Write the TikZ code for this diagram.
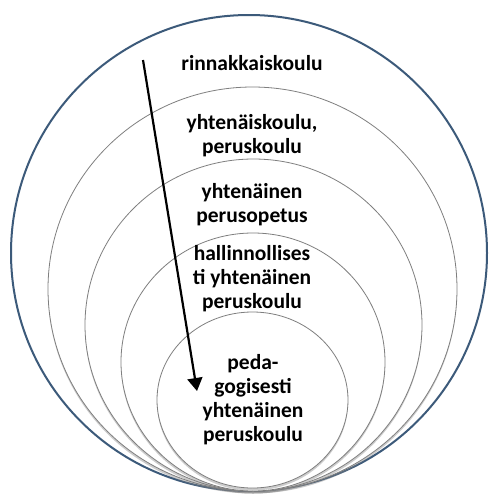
\documentclass[tikz,border=0pt]{standalone}
\usepackage{fontspec}
\setmainfont{Carlito}
\usetikzlibrary{shapes.geometric,shadows,arrows.meta}
\definecolor{outerblue}{HTML}{3C5A7A}
\definecolor{ringgray}{HTML}{7F7F7F}
\begin{document}
\begin{tikzpicture}[x=1pt,y=-1pt,
  ring/.style={ellipse, draw=ringgray, line width=0.8pt, fill=white, inner sep=0pt,
    drop shadow={shadow xshift=0pt, shadow yshift=-2.5pt, opacity=0.4}},
  outerring/.style={ellipse, draw=outerblue, line width=2pt, fill=white, inner sep=0pt},
  lbl/.style={font=\bfseries\fontsize{21.5}{24}\selectfont, align=center, text=black}]
\useasboundingbox (0,0) rectangle (488,496);
\fill[white] (0,0) rectangle (488,496);
\node[outerring, minimum width=476pt, minimum height=476pt] (c1) at (249,253) {};
\node[ring, minimum width=409pt, minimum height=404pt] (c2) at (252.5,289) {};
\node[ring, minimum width=337pt, minimum height=332pt] (c3) at (253.5,325) {};
\node[ring, minimum width=264pt, minimum height=258pt] (c4) at (253,362) {};
\node[ring, minimum width=191pt, minimum height=176pt] (c5) at (252.5,400) {};
\node[lbl] (t1) at (252,63) {rinnakkaiskoulu};
\node[lbl] (t2) at (252,136) {yhtenäiskoulu,\\peruskoulu};
\node[lbl] (t3) at (252,205) {yhtenäinen\\perusopetus};
\node[lbl] (t4) at (252,279) {hallinnollises\\ti yhtenäinen\\peruskoulu};
\node[lbl] (t5) at (253,400) {peda-\\gogisesti\\yhtenäinen\\peruskoulu};
\coordinate (as) at (143,60);
\coordinate (ae) at (197,391);
\draw[-{Triangle[length=13pt,width=15pt]}, line width=2.2pt] (as) -- (ae);
\end{tikzpicture}
\end{document}
